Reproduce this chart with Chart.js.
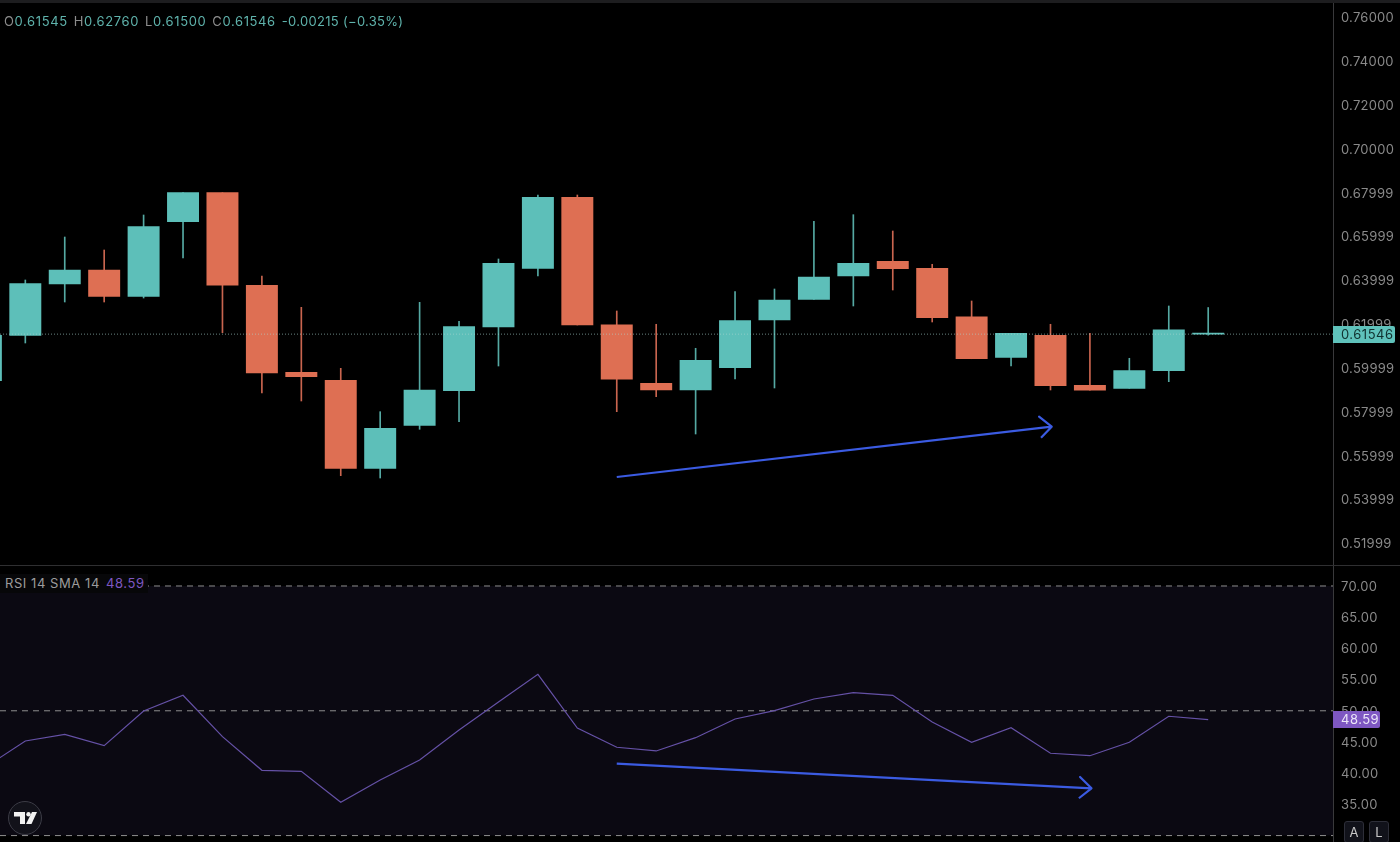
<!DOCTYPE html>
<html>
<head>
<meta charset="utf-8">
<script src="https://cdn.jsdelivr.net/npm/chart.js@4/dist/chart.umd.min.js"></script>
<style>
html,body{margin:0;padding:0;background:#000;width:1400px;height:842px;overflow:hidden;font-family:Inter,"Noto Sans",sans-serif}
canvas{position:absolute;left:0;display:block}
#priceCanvas{top:0}
#rsiCanvas{top:566px}
.abs{position:absolute;white-space:nowrap}
#strip{left:0;top:0;width:1400px;height:3px;background:#1d1d1f}
#sep{left:0;top:565px;width:1400px;height:1px;background:#2f2f31}
#ohlc{left:4px;top:13px;font-size:13px;line-height:16px;color:#8d8d8d;letter-spacing:.62px}
#ohlc b{font-weight:400;color:#5fb3ac}
#ohlc span{margin-right:6px}
#ohlc span:last-child b{letter-spacing:.3px}
#rsiLegend{left:0;top:574px;width:148px;height:19px;background:#070709;color:#9c9c9c;font-size:13px;line-height:19px;letter-spacing:.56px;padding-left:5px;box-sizing:border-box}
#rsiLegend b{font-weight:400;color:#7e57c2;margin-left:2px}
.tag{left:1333px;height:17px;font-size:13px;line-height:17px;letter-spacing:.5px;padding-left:8px;box-sizing:border-box;border-radius:0 2px 2px 0}
#priceTag{width:62px;background:#5fc2bb;color:#10302e}
#rsiTag{width:47px;background:#7e57c2;color:#ece6f8}
.btn{top:821px;width:20px;height:22px;background:#11121a;border:1px solid #2d2e38;border-radius:3px;box-sizing:border-box;color:#c6c6c6;font-size:13px;line-height:20px;text-align:center}
#logo{left:8px;top:801px;width:34px;height:34px;box-sizing:border-box;border-radius:50%;background:#12121a;border:1px solid #3c3c46}
</style>
</head>
<body>
<canvas id="priceCanvas" width="1400" height="565" style="width:1400px;height:565px"></canvas>
<canvas id="rsiCanvas" width="1400" height="276" style="width:1400px;height:276px"></canvas>
<div class="abs" id="strip"></div>
<div class="abs" id="sep"></div>
<div class="abs" id="ohlc"><span>O<b>0.61545</b></span><span>H<b>0.62760</b></span><span>L<b>0.61500</b></span><span>C<b>0.61546</b></span><span><b>-0.00215 (−0.35%)</b></span></div>
<div class="abs" id="rsiLegend">RSI 14 SMA 14 <b>48.59</b></div>
<div class="abs tag" id="priceTag">0.61546</div>
<div class="abs tag" id="rsiTag">48.59</div>
<div class="abs btn" style="left:1344px">A</div>
<div class="abs btn" style="left:1369px">L</div>
<div class="abs" id="logo"><svg width="32" height="32" viewBox="0 0 32 32" style="position:absolute;left:0;top:0"><polygon fill="#f2f2f2" points="5,10 16,10 16,22 11,22 11,14.5 5,14.5"/><circle fill="#f2f2f2" cx="19.5" cy="12.2" r="2.2"/><polygon fill="#f2f2f2" points="23,10 28,10 22.5,22 17,22"/></svg></div>
<script>
const opens  = [0.59422,0.61493,0.63833,0.64472,0.63267,0.66675,0.67998,0.63774,0.59805,0.59440,0.55425,0.57387,0.58965,0.61871,0.64549,0.67788,0.61976,0.59303,0.58998,0.60015,0.62191,0.63135,0.64198,0.64869,0.64549,0.62341,0.60489,0.61493,0.59212,0.59075,0.59878,0.61545];
const highs  = [0.61500,0.64016,0.65977,0.65384,0.66981,0.67998,0.67998,0.64198,0.62770,0.59987,0.58008,0.62998,0.62132,0.64974,0.67893,0.67893,0.62602,0.61995,0.60900,0.63482,0.63605,0.66694,0.66995,0.66251,0.64732,0.63058,0.61584,0.61995,0.61584,0.60444,0.62830,0.62760];
const lows   = [0.59000,0.61142,0.63012,0.63012,0.63194,0.65019,0.61612,0.58861,0.58496,0.55088,0.54983,0.57205,0.57551,0.60092,0.64198,0.61963,0.58008,0.58692,0.56990,0.59500,0.59089,0.63135,0.62830,0.63559,0.62100,0.60425,0.60092,0.58998,0.58984,0.59075,0.59376,0.61500];
const closes = [0.61493,0.63856,0.64472,0.63267,0.66447,0.67998,0.63774,0.59773,0.59604,0.55425,0.57250,0.58998,0.61885,0.64777,0.67788,0.61963,0.59486,0.58998,0.60352,0.62159,0.63103,0.64152,0.64777,0.64531,0.62296,0.60425,0.61584,0.59194,0.58984,0.59878,0.61748,0.61546];
const rsiValues = [41.00,45.16,46.23,44.41,49.97,52.48,45.85,40.46,40.30,35.34,38.91,42.12,46.92,51.41,55.85,47.24,44.15,43.56,45.69,48.69,50.02,51.89,52.90,52.48,48.21,44.95,47.29,43.19,42.80,44.95,49.12,48.59];
const priceTicks = [0.76,0.74,0.72,0.70,0.67999,0.65999,0.63999,0.61999,0.59999,0.57999,0.55999,0.53999,0.51999];
const rsiTicks = [70,65,60,55,50,45,40,35];
const rsiLevels = [70,50,30];
const lastPrice = 0.61546;
const lastRsi = 48.59;
const priceArrowX = [16.00,27.03,26.71,27.03,26.76];
const priceArrowY = [0.55028,0.57323,0.57779,0.57323,0.56821];
const rsiArrowX = [16.00,28.04,27.75,28.04,27.72];
const rsiArrowY = [41.52,37.58,39.39,37.58,35.98];

const xMin = 0.358, xMax = 34.165;
const TEAL = '#5dbfb9', RED = '#de6f53', TEAL_W = '#55a9a3', RED_W = '#c9654f';
const BLUE = '#3b5be2';
const isUp = i => closes[i] >= opens[i];
const idx = opens.map((_, i) => i);
const noPts = {pointRadius:0, pointHoverRadius:0, tension:0};
const zip = (xs, ys) => xs.map((x, i) => ({x, y: ys[i]}));

function yAxis(min, max, ticks, digits){
  return {
    position:'right', min, max,
    grid:{display:false, drawTicks:false},
    border:{display:true, color:'#39393b', width:1},
    afterBuildTicks(s){ s.ticks = ticks.map(v => ({value:v})); },
    afterFit(s){
      s.width = 67; s.paddingTop = 0; s.paddingBottom = 0;
      if (!s._labelNudge) {
        s._labelNudge = true;
        const orig = s.getLabelItems.bind(s);
        s.getLabelItems = area => {
          const fresh = !s._labelItems;
          const items = orig(area);
          if (fresh) items.forEach(it => { it.options.translation[1] += 1; });
          return items;
        };
      }
    },
    ticks:{
      autoSkip:false, padding:8, color:'#8a8a8a',
      font:{family:'Inter', size:13},
      callback:v => Number(v).toFixed(digits)
    }
  };
}
const xAxis = {type:'linear', display:false, min:xMin, max:xMax, offset:false};
const spacing = {id:'spacing', beforeDraw(c){ c.ctx.letterSpacing = '0.25px'; }};
const base = {
  responsive:false, animation:false, events:[],
  layout:{padding:0},
  plugins:{legend:{display:false}, tooltip:{enabled:false}}
};

const priceChart = new Chart(document.getElementById('priceCanvas'), {
  type:'bar',
  plugins:[spacing],
  data:{datasets:[
    {type:'line', order:0, data:zip(priceArrowX, priceArrowY), borderColor:BLUE, borderWidth:2.2, borderJoinStyle:'round', ...noPts},
    {type:'line', order:1, data:[{x:xMin,y:lastPrice},{x:xMax,y:lastPrice}], borderColor:'rgba(170,215,210,.62)', borderWidth:1, borderDash:[1,2], ...noPts},
    {type:'bar', order:2, grouped:false, barThickness:31.3, minBarLength:1, borderWidth:0,
      data:idx.map(i => ({x:i, y:[opens[i], closes[i]]})),
      backgroundColor:c => isUp(c.dataIndex) ? TEAL : RED},
    {type:'bar', order:3, grouped:false, barThickness:1, borderWidth:0,
      data:idx.map(i => ({x:i, y:[lows[i], highs[i]]})),
      backgroundColor:c => isUp(c.dataIndex) ? TEAL_W : RED_W}
  ]},
  options:{...base, scales:{x:xAxis, y:yAxis(0.51014, 0.76789, priceTicks, 5)}}
});

const rsiChart = new Chart(document.getElementById('rsiCanvas'), {
  type:'line',
  plugins:[spacing],
  data:{datasets:[
    {order:0, data:zip(rsiArrowX, rsiArrowY), borderColor:BLUE, borderWidth:2.2, borderJoinStyle:'round', ...noPts},
    {order:1, data:idx.map(i => ({x:i, y:rsiValues[i]})), borderColor:'#6551a6', borderWidth:1.2, ...noPts},
    {order:2, data:[{x:xMin,y:rsiLevels[1]},{x:xMax,y:rsiLevels[1]}], borderColor:'#8e8e8e', borderWidth:1, borderDash:[6,5], ...noPts},
    {order:3, data:[{x:xMin,y:rsiLevels[2]},{x:xMax,y:rsiLevels[2]}], borderColor:'#8e8e8e', borderWidth:1, borderDash:[6,5], ...noPts},
    {order:4, data:[{x:xMin,y:rsiLevels[0]},{x:xMax,y:rsiLevels[0]}], borderColor:'#8e8e8e', borderWidth:1, borderDash:[6,5], fill:{value:rsiLevels[2]}, backgroundColor:'#0b0912', ...noPts}
  ]},
  options:{...base, scales:{x:xAxis, y:yAxis(28.97, 73.205, rsiTicks, 2)}}
});

document.getElementById('priceTag').style.top = (priceChart.scales.y.getPixelForValue(lastPrice) - 8.5) + 'px';
document.getElementById('rsiTag').style.top = (566 + rsiChart.scales.y.getPixelForValue(lastRsi) - 8.5) + 'px';
</script>
</body>
</html>
